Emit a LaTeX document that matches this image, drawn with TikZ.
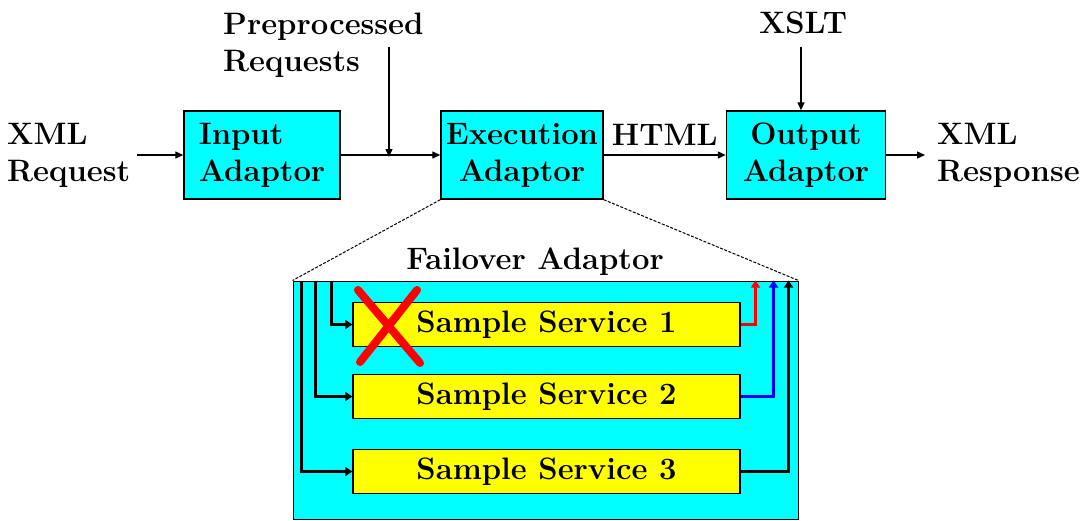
\documentclass[tikz,border=0pt]{standalone}
\usetikzlibrary{arrows.meta, positioning}
\definecolor{boxcyan}{RGB}{0,255,255}
\definecolor{boxyellow}{RGB}{255,255,0}
\definecolor{failred}{RGB}{255,0,0}
\definecolor{okblue}{RGB}{0,0,255}
\begin{document}
\begin{tikzpicture}[x=1pt, y=-1pt, font=\fontsize{31}{37}\selectfont\bfseries]
  \tikzstyle{block} = [rectangle, draw, line width=1.4pt, fill=boxcyan, minimum height=88pt, inner sep=0pt, align=center]
  \tikzstyle{service} = [rectangle, draw, line width=1.4pt, fill=boxyellow, minimum width=387pt, minimum height=44pt, inner sep=0pt]
  \tikzstyle{txt} = [inner sep=0pt, align=left, anchor=west]
  \tikzstyle{arrow} = [line width=1.3pt, -{Triangle[length=8pt,width=7pt]}]
  \tikzstyle{route} = [line width=2.6pt, -{Triangle[length=7pt,width=9pt]}]
  \tikzstyle{zoom} = [line width=1pt, dash pattern=on 3pt off 1.5pt]

  \useasboundingbox (0,0) rectangle (1092,520);

  % main chain
  \node[txt] (xmlin) at (7,155) {XML\\Request};
  \node[block, minimum width=156pt, align=left] (inp) at (262,155) {Input\\Adaptor};
  \node[block, minimum width=162pt] (exe) at (522,155) {Execution\\Adaptor};
  \node[block, minimum width=159pt] (out) at (806,155) {Output\\Adaptor};
  \node[txt] (xmlout) at (937,155) {XML\\Response};
  \node[txt] (pre) at (223,45) {Preprocessed\\Requests};
  \node[inner sep=0pt] (xslt) at (803,23) {XSLT};

  \coordinate (join) at (389,157);
  \coordinate (pretop) at (389,47);
  \coordinate (xsltin) at (801,47);

  \draw[arrow, shorten <=7pt] (xmlin.east |- inp) -- (inp);
  \draw[arrow] (inp) -- (exe);
  \draw[arrow] (pretop) -- (join);
  \draw[arrow] (exe) -- node[above=6pt] {HTML} (out);
  \draw[arrow] (xsltin) -- (xsltin |- out.north);
  \draw[arrow, shorten >=12pt] (out) -- (xmlout.west |- out);

  % failover detail
  \node[rectangle, draw, line width=1pt, fill=boxcyan, minimum width=505pt, minimum height=238pt] (fail) at (545.5,400) {};
  \node (failtitle) at (535,262) {Failover Adaptor};
  \draw[zoom] (exe.south west) -- (fail.north west);
  \draw[zoom] (exe.south east) -- (fail.north east);

  \node[service] (s1) at (546.5,324.5) {Sample Service 1};
  \node[service] (s2) at (546.5,396.5) {Sample Service 2};
  \node[service] (s3) at (546.5,471.5) {Sample Service 3};

  \foreach \dx/\s in {39/s1, 23/s2, 9/s3}
    \draw[route] ([xshift=\dx pt]fail.north west) |- (\s);
  \draw[route, failred] (s1) -| ([xshift=-43pt]fail.north east);
  \draw[route, okblue] (s2) -| ([xshift=-25pt]fail.north east);
  \draw[route] (s3) -| ([xshift=-10pt]fail.north east);

  % failed service
  \draw[failred, line width=8pt, line cap=round] (358,290) -- (420,363) (417,290) -- (360,362);
\end{tikzpicture}
\end{document}
